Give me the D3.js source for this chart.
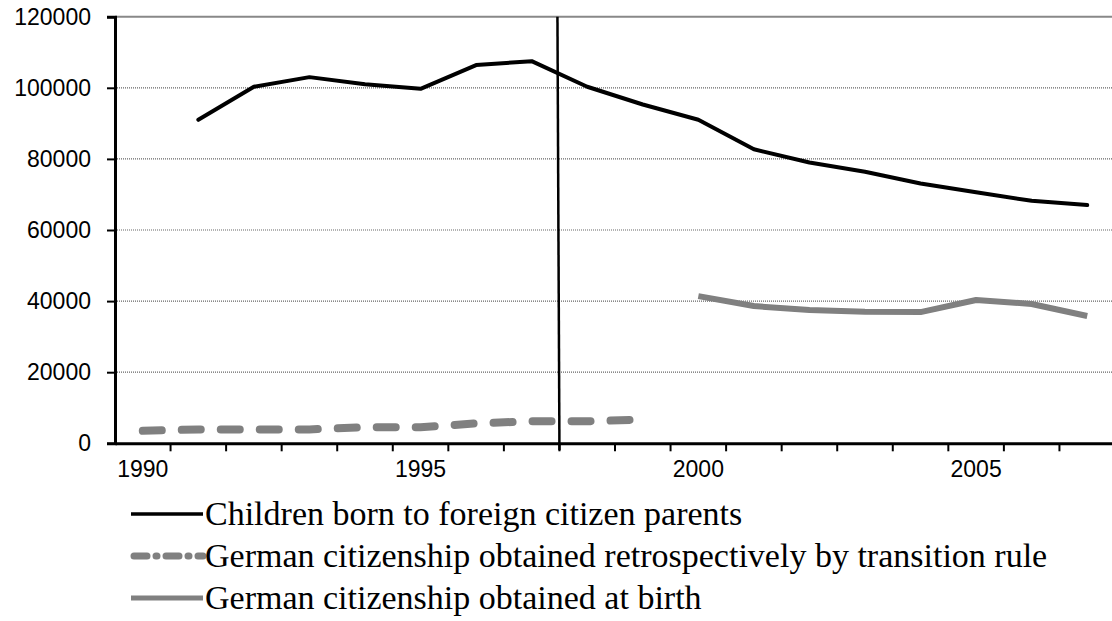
<html>
    <head>
        <title>Children born to foreign citizen parents</title>
        <style>
          body { margin: 0; background: #fff; }
          .y-label { font-family: "Liberation Sans", Arial, sans-serif; font-size: 23px; }
          .x-label { font-family: "Liberation Sans", Arial, sans-serif; font-size: 23px; }
          .legend-text { font-family: "Liberation Serif", "Times New Roman", serif; font-size: 34px; }
        </style>
    </head>
    <body>
      <div id="chart"></div>

    <script src="https://d3js.org/d3.v7.min.js"></script>

    <script>
        // data
        var years = [1990, 1991, 1992, 1993, 1994, 1995, 1996, 1997, 1998, 1999,
                     2000, 2001, 2002, 2003, 2004, 2005, 2006, 2007];

        var bornForeign = [null, 91000, 100300, 103000, 101000, 99700, 106400, 107500, 100300, 95300,
                           91000, 82700, 79000, 76400, 73100, 70600, 68200, 67000];

        var transitionRule = [3500, 3900, 3900, 3900, 4500, 4500, 5600, 6200, 6200, 6700,
                              null, null, null, null, null, null, null, null];

        var atBirth = [null, null, null, null, null, null, null, null, null, null,
                       41400, 38600, 37500, 37000, 36900, 40300, 39200, 35800];

        var yTicks = [0, 20000, 40000, 60000, 80000, 100000, 120000];
        var xLabels = [1990, 1995, 2000, 2005];
        var reformYear = 1997.5;

        var legendNames = ["Children born to foreign citizen parents",
                           "German citizenship obtained retrospectively by transition rule",
                           "German citizenship obtained at birth"];

        var width = 1112,
            height = 621;

        var plotLeft = 115, plotRight = 1115, plotTop = 16.7, plotBottom = 443.3;

        var svg = d3.select("#chart")
                .append("svg")
                .attr("width", width)
                .attr("height", height);

        svg.append("rect")
           .attr("width", width)
           .attr("height", height)
           .attr("fill", "white");

        var x = d3.scaleBand()
                  .domain(years)
                  .range([plotLeft, plotRight]);

        var y = d3.scaleLinear()
                  .domain([0, 120000])
                  .range([plotBottom, plotTop]);

        function xc(yr){ return x(yr) + x.bandwidth()/2; }

        // year position incl. fractions (for the reform line)
        var xYear = d3.scaleLinear()
                      .domain([years[0], years[1]])
                      .range([xc(years[0]), xc(years[1])]);

        //gridlines
        svg.append("g")
           .selectAll("line")
           .data(yTicks.filter(function(d){ return d > 0; }))
           .enter().append("line")
           .attr("x1", plotLeft)
           .attr("x2", plotRight)
           .attr("y1", y)
           .attr("y2", y)
           .attr("stroke", function(d){ return d == 120000 ? "#888" : "#666"; })
           .attr("stroke-width", function(d){ return d == 120000 ? 2 : 1.2; })
           .attr("stroke-dasharray", function(d){ return d == 120000 ? null : "1,1"; });

        //y axis
        var yAxis = d3.axisLeft(y)
                      .tickValues(yTicks)
                      .tickSize(8)
                      .tickPadding(16)
                      .tickFormat(d3.format("d"));

        var yg = svg.append("g")
           .attr("transform", "translate(" + plotLeft + ",0)")
           .call(yAxis);

        yg.select(".domain").attr("stroke", "black").attr("stroke-width", 3);
        yg.selectAll(".tick line").attr("stroke", "black").attr("stroke-width", 2);
        yg.selectAll(".tick text")
          .attr("class", "y-label")
          .attr("fill", "black");
        yg.attr("font-family", null).attr("font-size", null);

        //x axis - ticks between categories
        var xAxis = d3.axisBottom(x)
                      .tickSize(0)
                      .tickPadding(17)
                      .tickFormat(function(d){ return xLabels.indexOf(d) >= 0 ? d : ""; });

        var xg = svg.append("g")
           .attr("transform", "translate(0," + plotBottom + ")")
           .call(xAxis);

        xg.select(".domain").attr("stroke", "black").attr("stroke-width", 3);
        xg.selectAll(".tick text")
          .attr("class", "x-label")
          .attr("fill", "black");
        xg.attr("font-family", null).attr("font-size", null);

        xg.append("g")
          .selectAll("line")
          .data(years.slice(1))
          .enter().append("line")
          .attr("x1", function(d){ return x(d); })
          .attr("x2", function(d){ return x(d); })
          .attr("y1", 0)
          .attr("y2", 8)
          .attr("stroke", "black")
          .attr("stroke-width", 2);

        //series
        function series(values){
            return years.map(function(yr, i){ return {year: yr, value: values[i]}; });
        }

        var line = d3.line()
                     .defined(function(d){ return d.value != null; })
                     .x(function(d){ return xc(d.year); })
                     .y(function(d){ return y(d.value); });

        svg.append("path")
           .datum(series(transitionRule))
           .attr("d", line)
           .attr("fill", "none")
           .attr("stroke", "#808080")
           .attr("stroke-width", 8)
           .attr("stroke-linecap", "round")
           .attr("stroke-dasharray", "19,20");

        svg.append("path")
           .datum(series(atBirth))
           .attr("d", line)
           .attr("fill", "none")
           .attr("stroke", "#808080")
           .attr("stroke-width", 6)
           .attr("stroke-linejoin", "round");

        svg.append("path")
           .datum(series(bornForeign))
           .attr("d", line)
           .attr("fill", "none")
           .attr("stroke", "black")
           .attr("stroke-width", 4)
           .attr("stroke-linejoin", "round")
           .attr("stroke-linecap", "round");

        //reform line (transition rule)
        svg.append("line")
           .attr("x1", xYear(reformYear) - 2)
           .attr("x2", xYear(reformYear))
           .attr("y1", plotTop)
           .attr("y2", plotBottom + 7)
           .attr("stroke", "black")
           .attr("stroke-width", 2.5);

        //legend
        var legendStyles = [
            {stroke: "black", width: 3.5, dash: null, cap: "butt"},
            {stroke: "#808080", width: 7, dash: "13,9,1,9", cap: "round"},
            {stroke: "#808080", width: 5, dash: null, cap: "butt"}
        ];

        var legend = svg.append("g")
                        .selectAll("g")
                        .data(legendNames)
                        .enter().append("g")
                        .attr("transform", function(d, i){ return "translate(131," + (514 + i*42) + ")"; });

        legend.append("line")
              .attr("x1", function(d, i){ return legendStyles[i].cap == "round" ? 3 : 0; })
              .attr("x2", 72)
              .attr("stroke", function(d, i){ return legendStyles[i].stroke; })
              .attr("stroke-width", function(d, i){ return legendStyles[i].width; })
              .attr("stroke-dasharray", function(d, i){ return legendStyles[i].dash; })
              .attr("stroke-linecap", function(d, i){ return legendStyles[i].cap; });

        legend.append("text")
              .attr("class", "legend-text")
              .attr("x", 74)
              .attr("y", 11)
              .text(function(d){ return d; });

    </script>
    </body>
</html>
